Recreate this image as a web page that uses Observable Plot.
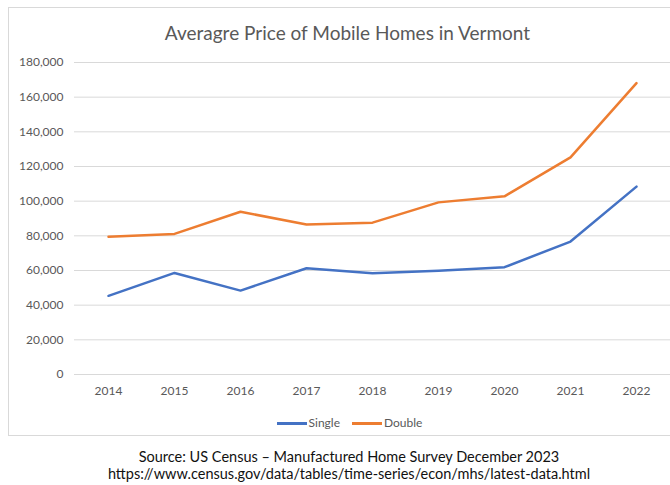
<!DOCTYPE html>
<html><head><meta charset="utf-8">
<script src="https://cdn.jsdelivr.net/npm/d3@7"></script>
<script src="https://cdn.jsdelivr.net/npm/@observablehq/plot@0.6"></script>
<style>
body{margin:0;background:#fff;font-family:Lato,"Open Sans",sans-serif;}
#wrap{position:relative;width:670px;height:485px;overflow:hidden;background:#fff;}
#box{position:absolute;left:8px;top:7px;width:700px;height:429px;border:1px solid #d9d9d9;box-sizing:border-box;}
#chart{position:absolute;left:0;top:0;}
#title{position:absolute;left:0;width:695px;top:20px;text-align:center;font-size:19px;line-height:26px;color:#595959;}
#legend{position:absolute;left:0;width:699px;top:415px;display:flex;justify-content:center;align-items:center;font-size:12px;line-height:16px;color:#595959;}
#legend .sw{display:inline-block;width:30px;height:3px;margin-right:2px;}
#legend .it{display:flex;align-items:center;margin:0 6px;}
#caption{position:absolute;left:0;width:698px;top:448px;text-align:center;font-size:14.5px;line-height:17px;color:#111;}
</style></head>
<body>
<div id="wrap">
  <div id="box"></div>
  <div id="chart"></div>
  <div id="title">Averagre Price of Mobile Homes in Vermont</div>
  <div id="legend"></div>
  <div id="caption">Source: US Census – Manufactured Home Survey December 2023<br>https://www.census.gov/data/tables/time-series/econ/mhs/latest-data.html</div>
</div>
<script>
const years = ["2014","2015","2016","2017","2018","2019","2020","2021","2022"];
const single = [45400, 58600, 48400, 61300, 58400, 59900, 61900, 76700, 108400];
const double = [79500, 81100, 93900, 86500, 87600, 99300, 102800, 125300, 168100];
const yTicks = [0, 20000, 40000, 60000, 80000, 100000, 120000, 140000, 160000, 180000];
const seriesNames = ["Single", "Double"];
const seriesColors = ["#4472C4", "#ED7D31"];

const singleData = years.map((y, i) => ({year: y, value: single[i]}));
const doubleData = years.map((y, i) => ({year: y, value: double[i]}));

const plot = Plot.plot({
  width: 670,
  height: 410,
  marginLeft: 74,
  marginRight: 0,
  marginTop: 62,
  marginBottom: 36,
  style: {fontFamily: "Lato, 'Open Sans', sans-serif", fontSize: "12px", color: "#595959", background: "transparent"},
  x: {type: "point", domain: years, padding: 0.5, label: null},
  y: {domain: [0, 180000], label: null},
  marks: [
    Plot.gridY(yTicks, {stroke: "#d9d9d9", strokeOpacity: 1, strokeWidth: 1}),
    Plot.axisY(yTicks, {tickSize: 0, tickPadding: 11, tickFormat: d3.format(","), fill: "#595959", label: null}),
    Plot.axisX(years, {tickSize: 0, tickPadding: 12, fill: "#595959", label: null}),
    Plot.line(singleData, {x: "year", y: "value", stroke: seriesColors[0], strokeWidth: 2.5, strokeLinecap: "round", strokeLinejoin: "round"}),
    Plot.line(doubleData, {x: "year", y: "value", stroke: seriesColors[1], strokeWidth: 2.5, strokeLinecap: "round", strokeLinejoin: "round"})
  ]
});
document.getElementById("chart").appendChild(plot);

const legend = document.getElementById("legend");
seriesNames.forEach((n, i) => {
  const it = document.createElement("span");
  it.className = "it";
  const sw = document.createElement("span");
  sw.className = "sw";
  sw.style.background = seriesColors[i];
  it.appendChild(sw);
  it.appendChild(document.createTextNode(n));
  legend.appendChild(it);
});
</script>
</body></html>
